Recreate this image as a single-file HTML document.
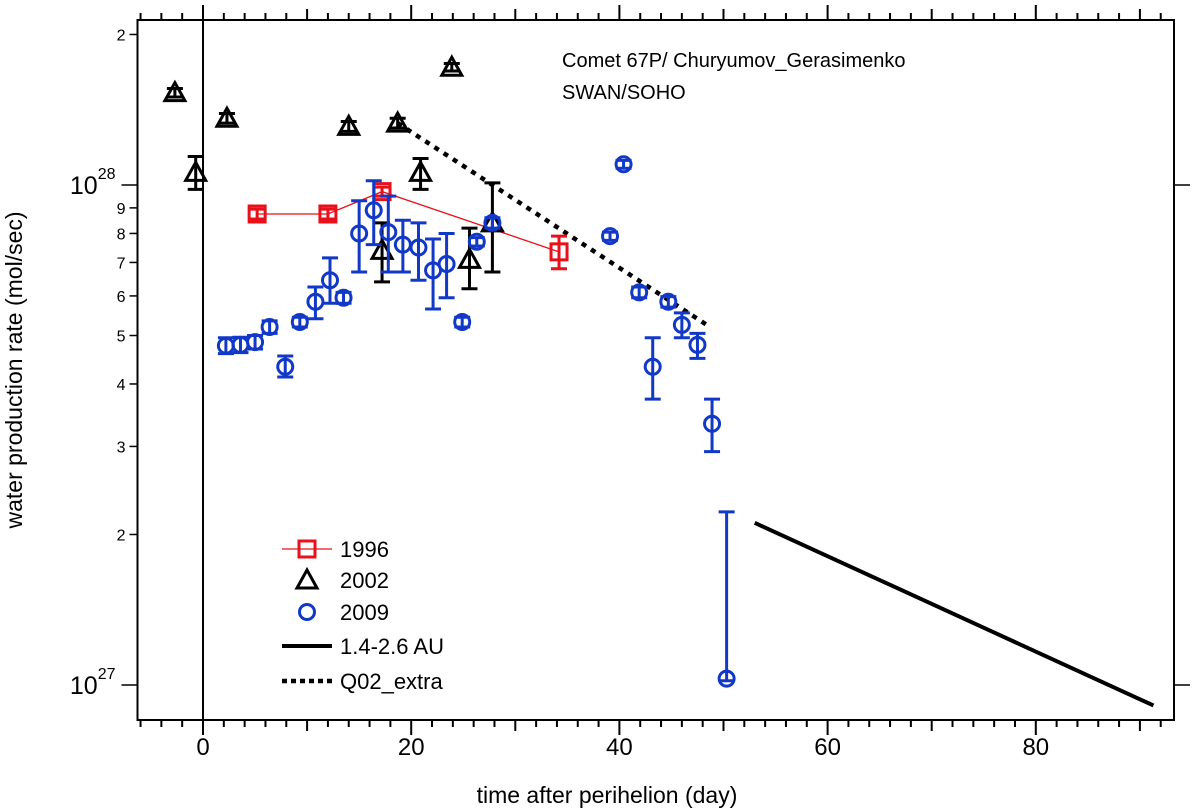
<!DOCTYPE html>
<html><head><meta charset="utf-8"><style>
html,body{margin:0;padding:0;background:#fff;}
svg{display:block;font-family:"Liberation Sans","DejaVu Sans",sans-serif;}
</style></head><body>
<svg id="chart" width="1200" height="812" viewBox="0 0 1200 812" xmlns="http://www.w3.org/2000/svg"></svg>
<script>
// data: day after perihelion, rate in units of 1e27 mol/s, [lo, hi] error
const days96=[5.2,12.0,17.2,34.2];
const vals96=[8.75,8.75,9.7,7.35];
const errs96=[[8.55,8.95],[8.55,8.95],[9.5,9.9],[6.8,7.9]];
const days02=[-2.7,-0.7,2.3,14.0,17.2,18.7,20.9,23.9,25.6,27.8];
const vals02=[15.3,10.6,13.6,13.1,7.4,13.3,10.6,17.2,7.1,8.4];
const errs02=[[15.0,15.6],[9.8,11.4],[13.3,13.9],[12.8,13.4],[6.4,8.4],[13.0,13.6],[9.8,11.3],[16.9,17.5],[6.2,8.2],[6.7,10.1]];
const days09=[2.2,3.6,5.0,6.4,7.9,9.3,10.8,12.2,13.5,15.0,16.4,17.8,19.2,20.7,22.1,23.4,24.9,26.3,27.8,39.1,40.4,41.9,43.2,44.7,46.0,47.5,48.9,50.3];
const vals09=[4.77,4.79,4.85,5.2,4.33,5.32,5.84,6.45,5.95,8.0,8.9,8.05,7.6,7.5,6.75,6.95,5.32,7.7,8.4,7.9,11.0,6.1,4.33,5.84,5.25,4.79,3.33,1.03];
const errs09=[[4.6,4.95],[4.62,4.96],[4.7,5.0],[5.05,5.35],[4.13,4.55],[5.2,5.44],[5.4,6.25],[5.8,7.15],[5.8,6.1],[6.7,9.3],[7.6,10.2],[6.7,9.5],[6.7,8.5],[6.45,8.4],[5.65,7.8],[5.95,8.0],[5.2,5.44],[7.55,7.85],[8.2,8.6],[7.75,8.05],[10.8,11.2],[5.95,6.25],[3.73,4.95],[5.7,5.98],[4.95,5.55],[4.5,5.05],[2.93,3.73],[1.02,2.22]];
const daysSolid=[53.0,91.3];
const valsSolid=[2.11,0.91];
const daysDot=[18.7,48.7];
const valsDot=[13.3,5.2];
const xTicks=[0,20,40,60,80];
const yMinor=[2,3,4,5,6,7,8,9,20];

const NS="http://www.w3.org/2000/svg";
const svg=document.getElementById('chart');
const X0=203, PXD=10.41, L=137.5, R=1174, T=20, B=720;
function xs(d){return X0+d*PXD;}
function ys(v){return 185-500*Math.log10(v/10);}
function el(tag,attrs,parent){const e=document.createElementNS(NS,tag);for(const k in attrs)e.setAttribute(k,attrs[k]);(parent||svg).appendChild(e);return e;}

const frame=el('rect',{x:L,y:T,width:R-L,height:B-T,fill:'none',stroke:'#000','stroke-width':2});


const zl=el('line',{x1:xs(0),y1:5,x2:xs(0),y2:B,stroke:'#000','stroke-width':2});



for(let d=-6; d<=92; d+=2){
  const x=xs(d); const len=(d%20===0)?15:(d%10===0?11:7);
  const tb=el('line',{x1:x,y1:B,x2:x,y2:B+len,stroke:'#000','stroke-width':2});
  
  
  const tt=el('line',{x1:x,y1:T,x2:x,y2:T-len,stroke:'#000','stroke-width':2});
  
  
}
xTicks.forEach(d=>{
  const t=el('text',{x:xs(d),y:755,'font-size':24,'text-anchor':'middle'});
  t.textContent=d;
  
  
});
[1,10].forEach(v=>{
  const y=ys(v);
  const a=el('line',{x1:L-16,y1:y,x2:L,y2:y,stroke:'#000','stroke-width':1.5});
  
  
  const b=el('line',{x1:R,y1:y,x2:R+16,y2:y,stroke:'#000','stroke-width':1.5});
  
  
  const t=el('text',{x:L-22,y:y+9,'font-size':25,'text-anchor':'end'});
  t.textContent='10';
  const s=el('tspan',{dy:-15,'font-size':16},t); s.textContent=(v===1?'27':'28');
  
  
});
yMinor.forEach(v=>{
  const y=ys(v);
  const a=el('line',{x1:L-8,y1:y,x2:L,y2:y,stroke:'#000','stroke-width':1.5});
  
  
  const t=el('text',{x:L-12,y:y+6,'font-size':16,'text-anchor':'end'});
  t.textContent=(v>=10?v/10:v);
  
  
});

const sl=el('line',{x1:xs(daysSolid[0]),y1:ys(valsSolid[0]),x2:xs(daysSolid[1]),y2:ys(valsSolid[1]),stroke:'#000','stroke-width':4});


const dl=el('line',{x1:xs(daysDot[0]),y1:ys(valsDot[0]),x2:xs(daysDot[1]),y2:ys(valsDot[1]),stroke:'#000','stroke-width':4.5,'stroke-dasharray':'5 6'});


const pl=el('polyline',{points:days96.map((d,i)=>xs(d)+','+ys(vals96[i])).join(' '),fill:'none',stroke:'#e8101a','stroke-width':1.3});



function errbar(x,lo,hi,col){
  const g=el('g',{stroke:col,'stroke-width':3});
  el('line',{x1:x,y1:ys(lo),x2:x,y2:ys(hi)},g);
  el('line',{x1:x-8,y1:ys(lo),x2:x+8,y2:ys(lo)},g);
  el('line',{x1:x-8,y1:ys(hi),x2:x+8,y2:ys(hi)},g);
  
  
}
const BLUE='#1238c8', RED='#e8101a';
days96.forEach((d,i)=>{
  const x=xs(d),y=ys(vals96[i]);
  errbar(x,errs96[i][0],errs96[i][1],RED);
  const r=el('rect',{x:x-8,y:y-8,width:16,height:16,fill:'none',stroke:RED,'stroke-width':3});
  
  
});
days02.forEach((d,i)=>{
  const x=xs(d),y=ys(vals02[i]);
  errbar(x,errs02[i][0],errs02[i][1],'#000');
  const p=el('polygon',{points:`${x},${y-10} ${x+10},${y+8} ${x-10},${y+8}`,fill:'none',stroke:'#000','stroke-width':3});
  
  
});
days09.forEach((d,i)=>{
  const x=xs(d),y=ys(vals09[i]);
  errbar(x,errs09[i][0],errs09[i][1],BLUE);
  const c=el('circle',{cx:x,cy:y,r:7.5,fill:'none',stroke:BLUE,'stroke-width':3});
  
  
});

function txt(x,y,s,size,name,extra){const t=el('text',Object.assign({x:x,y:y,'font-size':size},extra||{}));t.textContent=s;
  return t;}
txt(562,67,'Comet 67P/ Churyumov_Gerasimenko',20,'chart-title');
txt(562,99,'SWAN/SOHO',20,'chart-subtitle');
txt(607,803,'time after perihelion (day)',23,'x-axis-title',{'text-anchor':'middle'});
txt(0,0,'water production rate (mol/sec)',23,'y-axis-title',{'text-anchor':'middle',transform:'translate(22,370) rotate(-90)'});

const lg=el('g',{});


const ly=[549,580,612,646,681];
el('line',{x1:282,y1:ly[0],x2:332,y2:ly[0],stroke:RED,'stroke-width':1.3},lg);
el('rect',{x:299,y:ly[0]-8,width:16,height:16,fill:'none',stroke:RED,'stroke-width':3},lg);
el('polygon',{points:`307,${ly[1]-10} 317,${ly[1]+8} 297,${ly[1]+8}`,fill:'none',stroke:'#000','stroke-width':3},lg);
el('circle',{cx:307,cy:ly[2],r:7.5,fill:'none',stroke:BLUE,'stroke-width':3},lg);
el('line',{x1:282,y1:ly[3],x2:332,y2:ly[3],stroke:'#000','stroke-width':4},lg);
el('line',{x1:282,y1:ly[4],x2:332,y2:ly[4],stroke:'#000','stroke-width':4.5,'stroke-dasharray':'5 4'},lg);
['1996','2002','2009','1.4-2.6 AU','Q02_extra'].forEach((s,i)=>{
  const t=el('text',{x:340,y:ly[i]+8,'font-size':22},lg);t.textContent=s;
  
  
});
</script>
</body></html>
